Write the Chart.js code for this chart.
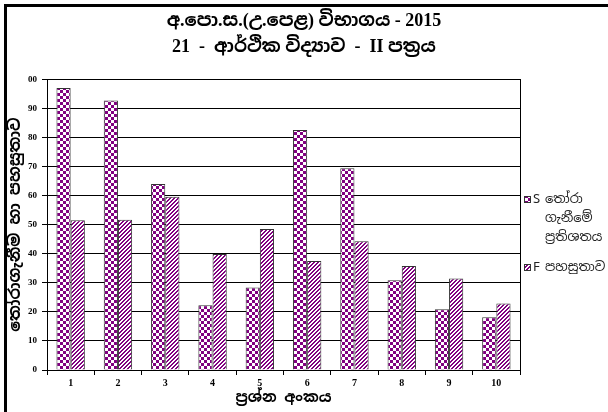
<!DOCTYPE html>
<html>
<head>
<meta charset="utf-8">
<script src="https://cdn.jsdelivr.net/npm/chart.js@4/dist/chart.umd.min.js"></script>
<style>
  body { margin: 0; background: #fff; }
  #chart { display: block; }
</style>
</head>
<body>
<canvas id="chart" width="608" height="412"></canvas>
<script>
const questions = ["1", "2", "3", "4", "5", "6", "7", "8", "9", "10"];
const selectPercent = [97, 92.7, 64, 22.3, 28.4, 82.5, 69.4, 30.9, 20.9, 18.1];
const easiness = [51.5, 51.7, 59.6, 39.9, 48.5, 37.5, 44.3, 35.8, 31.5, 22.9];
const yTickLabels = ["0", "10", "20", "30", "40", "50", "60", "70", "80", "90", "00"];
const titleLines = ["අ.පො.ස.(උ.පෙළ) විභාගය - 2015", "21  -  ආර්ථික විද්‍යාව  -  II පත්‍රය"];
const legendS = ["S", "තෝරා", "ගැනීමේ", "ප්‍රතිශතය"];
const legendF = ["F", "පහසුතාව"];

// serif first so digits/latin look like the Times original, Sinhala falls through
const titleFont = '"Liberation Serif", "Noto Sans Sinhala", "Noto Serif Sinhala", serif';
const sinhala = '"Noto Sans Sinhala", "Noto Serif Sinhala", sans-serif';
const purple = "#800080";

const canvas = document.getElementById("chart");
const ctx = canvas.getContext("2d");

function makeChecker() {
  const c = document.createElement("canvas");
  c.width = 6;
  c.height = 6;
  const g = c.getContext("2d");
  g.fillStyle = "#fff";
  g.fillRect(0, 0, 6, 6);
  g.fillStyle = purple;
  g.fillRect(0, 0, 3, 3);
  g.fillRect(3, 3, 3, 3);
  return ctx.createPattern(c, "repeat");
}

function makeStripes() {
  const c = document.createElement("canvas");
  c.width = 4;
  c.height = 4;
  const g = c.getContext("2d");
  g.fillStyle = "#fff";
  g.fillRect(0, 0, 4, 4);
  g.fillStyle = purple;
  for (let x = 0; x < 4; x++) {
    g.fillRect(x, 3 - x, 1, 1);
    g.fillRect((x + 1) % 4, 3 - x, 1, 1);
  }
  return ctx.createPattern(c, "repeat");
}

const checker = makeChecker();
const stripes = makeStripes();

// left/top frame and the multi-line legend on the right
const extras = {
  id: "extras",
  afterDraw(chart) {
    const c = chart.ctx;
    c.save();
    c.fillStyle = "#000";
    c.fillRect(4, 4, 3, 408);
    c.fillRect(4, 4, 604, 3);

    const x0 = chart.chartArea.right + 4;
    c.font = "13px " + sinhala;
    c.textBaseline = "middle";

    c.fillStyle = checker;
    c.fillRect(x0, 196, 7, 7);
    c.strokeStyle = "#333";
    c.lineWidth = 1;
    c.strokeRect(x0 + 0.5, 196.5, 6, 6);
    c.fillStyle = "#222";
    c.fillText(legendS[0], x0 + 9, 199);
    c.fillText(legendS[1], x0 + 21, 199);
    c.fillText(legendS[2], x0 + 21, 218);
    c.fillText(legendS[3], x0 + 21, 237);

    c.fillStyle = stripes;
    c.fillRect(x0, 264, 7, 7);
    c.strokeRect(x0 + 0.5, 264.5, 6, 6);
    c.fillStyle = "#222";
    c.fillText(legendF[0], x0 + 9, 267);
    c.fillText(legendF[1], x0 + 21, 267);
    c.restore();
  },
};

new Chart(canvas, {
  type: "bar",
  data: {
    labels: questions,
    datasets: [
      {
        label: legendS.join(" "),
        data: selectPercent,
        backgroundColor: checker,
        borderColor: "#333",
        borderWidth: 1,
      },
      {
        label: legendF.join(" "),
        data: easiness,
        backgroundColor: stripes,
        borderColor: "#333",
        borderWidth: 1,
      },
    ],
  },
  options: {
    responsive: false,
    animation: false,
    layout: { padding: 0 },
    datasets: {
      bar: { categoryPercentage: 0.6, barPercentage: 1 },
    },
    plugins: {
      legend: { display: false },
      tooltip: { enabled: false },
      title: {
        display: true,
        text: titleLines,
        color: "#000",
        font: { family: titleFont, size: 18, weight: "bold", lineHeight: 1.45 },
        padding: { top: 8, bottom: 19 },
      },
    },
    scales: {
      x: {
        grid: { offset: true, drawOnChartArea: false, tickLength: 5, color: "#000" },
        border: { color: "#000" },
        ticks: {
          color: "#000",
          padding: 2,
          font: { family: "Liberation Serif", size: 10, weight: "bold" },
        },
        title: {
          display: true,
          text: "ප්‍රශ්න අංකය",
          color: "#000",
          font: { family: sinhala, size: 15, weight: "bold", lineHeight: 1.2 },
          padding: { top: 0, bottom: 5 },
        },
        afterFit(scale) {
          scale.height = 42;
        },
      },
      y: {
        min: 0,
        max: 100,
        ticks: {
          stepSize: 10,
          color: "#000",
          padding: 5,
          font: { family: "Liberation Serif", size: 9, weight: "bold" },
          callback: (value) => yTickLabels[value / 10],
        },
        grid: { color: "#000", tickLength: 5 },
        border: { color: "#000" },
        title: {
          display: true,
          text: "තෝරාගැනීම හා පහසුතාව",
          color: "#000",
          font: { family: sinhala, size: 16, weight: "bold", lineHeight: 1.2 },
          padding: { top: 6, bottom: 0 },
        },
        afterFit(scale) {
          scale.width = 47;
        },
      },
      right: {
        position: "right",
        min: 0,
        max: 100,
        ticks: { display: false },
        grid: { display: false },
        border: { color: "#000" },
        afterFit(scale) {
          scale.width = 88;
        },
      },
    },
  },
  plugins: [extras],
});
</script>
</body>
</html>
